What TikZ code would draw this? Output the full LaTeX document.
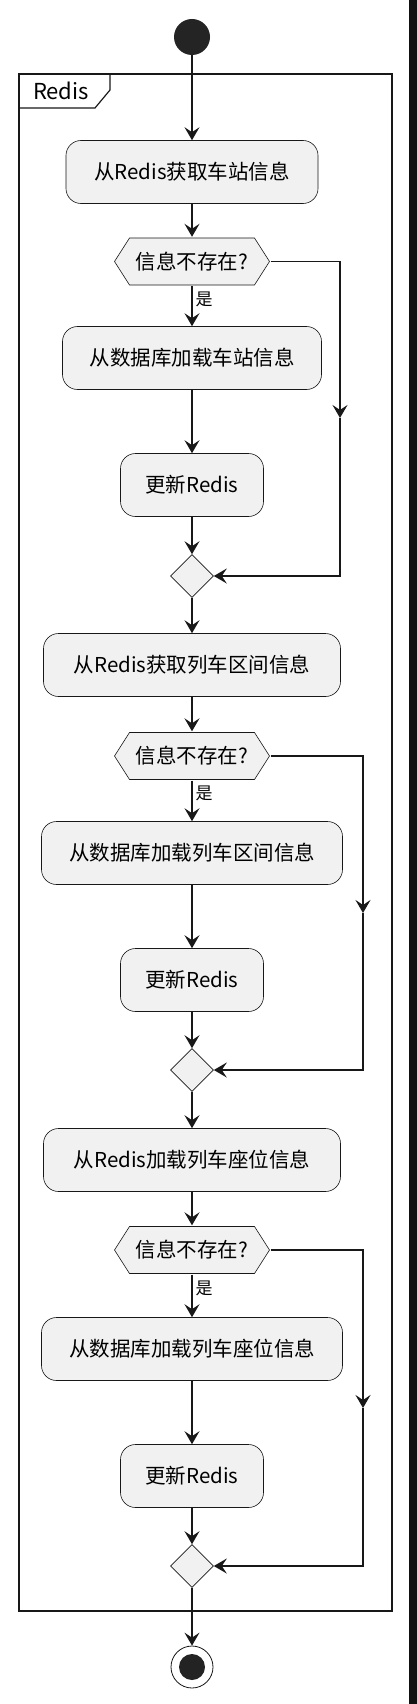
\documentclass[tikz,border=0pt]{standalone}
\usepackage{fontspec}
\setmainfont{Noto Sans CJK SC}
\usetikzlibrary{shapes.geometric,arrows.meta}
\definecolor{umlfill}{HTML}{F1F1F1}
\definecolor{umlline}{HTML}{181818}
\tikzset{>={Stealth[length=13pt,width=15pt,inset=5pt]}}
\tikzset{
  act/.style={draw=umlline,fill=umlfill,line width=0.6pt,rounded corners=15pt,
    minimum height=63pt,inner xsep=0pt,font=\fontsize{20.5}{24}\selectfont},
  cond/.style={rectangle,minimum width=157pt,minimum height=49pt,inner sep=0pt,
    font=\fontsize{20.5}{24}\selectfont,
    path picture={\draw[draw=umlline,fill=umlfill,line width=0.6pt]
      ([xshift=1pt]path picture bounding box.west)
      -- ([xshift=16pt,yshift=-1pt]path picture bounding box.north west)
      -- ([xshift=-16pt,yshift=-1pt]path picture bounding box.north east)
      -- ([xshift=-1pt]path picture bounding box.east)
      -- ([xshift=-16pt,yshift=1pt]path picture bounding box.south east)
      -- ([xshift=16pt,yshift=1pt]path picture bounding box.south west) -- cycle;}},
  merge/.style={diamond,aspect=1,draw=umlline,fill=umlfill,line width=0.6pt,
    minimum width=43pt,minimum height=43pt,inner sep=0pt},
  flow/.style={draw=umlline,line width=1.4pt},
  yes/.style={font=\fontsize{17}{19}\selectfont,inner sep=3pt},
}

\begin{document}
\begin{tikzpicture}[x=1pt,y=1pt]
\path[use as bounding box,fill=white] (0,0) rectangle (417,-1704);
\fill[black!93] (409,0) rectangle (417,-1704);

% frame
\draw[umlline,line width=2pt] (19,-74) rectangle (392,-1611);
\draw[umlline,line width=1.2pt] (19,-108) -- (95,-108) -- (110,-90) -- (110,-74);
\node[font=\fontsize{22}{25}\selectfont] (ttl) at (61,-91) {Redis};

\node[circle,fill=umlline!95!white,minimum size=36pt,inner sep=0pt] (start) at (192,-37) {};

\begin{scope}[every node/.style={act}]
\node[minimum width=252pt] (a1) at (192,-172) {从Redis获取车站信息};
\node[minimum width=259pt] (a2) at (192,-358) {从数据库加载车站信息};
\node[minimum width=143pt] (a3) at (192,-485) {更新Redis};
\node[minimum width=297pt] (a4) at (192,-665) {从Redis获取列车区间信息};
\node[minimum width=301pt] (a5) at (192,-853) {从数据库加载列车区间信息};
\node[minimum width=143pt] (a6) at (192,-980) {更新Redis};
\node[minimum width=297pt] (a7) at (192,-1160) {从Redis加载列车座位信息};
\node[minimum width=301pt] (a8) at (192,-1349) {从数据库加载列车座位信息};
\node[minimum width=143pt] (a9) at (192,-1476) {更新Redis};
\end{scope}

\node[cond] (h1) at (192,-261.5) {信息不存在?};
\node[cond] (h2) at (192,-756) {信息不存在?};
\node[cond] (h3) at (192,-1250) {信息不存在?};

\node[merge] (m1) at (192,-576) {};
\node[merge] (m2) at (192,-1070) {};
\node[merge] (m3) at (192,-1566) {};

\node[circle,draw=umlline,line width=0.8pt,fill=white,minimum size=42pt,inner sep=0pt,
  path picture={\fill[umlline!95!white] (path picture bounding box.center) circle (13pt);}]
  (stop) at (192,-1667) {};

\coordinate (r1) at (340,-418);
\coordinate (r2) at (363,-913);
\coordinate (r3) at (363,-1408);

\begin{scope}[every edge/.style={flow}]
    \path [->] (start) edge (a1);
    \path [->] (a1) edge (h1);
    \path [->] (h1) edge node[yes,pos=0.32,right] {是} (a2);
    \path [->] (a2) edge (a3);
    \path [->] (a3) edge (m1);
    \path [->] (m1) edge (a4);

    \path [->] (a4) edge (h2);
    \path [->] (h2) edge node[yes,pos=0.32,right] {是} (a5);
    \path [->] (a5) edge (a6);
    \path [->] (a6) edge (m2);
    \path [->] (m2) edge (a7);

    \path [->] (a7) edge (h3);
    \path [->] (h3) edge node[yes,pos=0.32,right] {是} (a8);
    \path [->] (a8) edge (a9);
    \path [->] (a9) edge (m3);
    \path [->] (m3) edge (stop);
\end{scope}

\draw[flow,->] (h1.east) -| (r1);
\draw[flow,->] (r1) |- (m1.east);
\draw[flow,->] (h2.east) -| (r2);
\draw[flow,->] (r2) |- (m2.east);
\draw[flow,->] (h3.east) -| (r3);
\draw[flow,->] (r3) |- (m3.east);
\end{tikzpicture}
\end{document}
